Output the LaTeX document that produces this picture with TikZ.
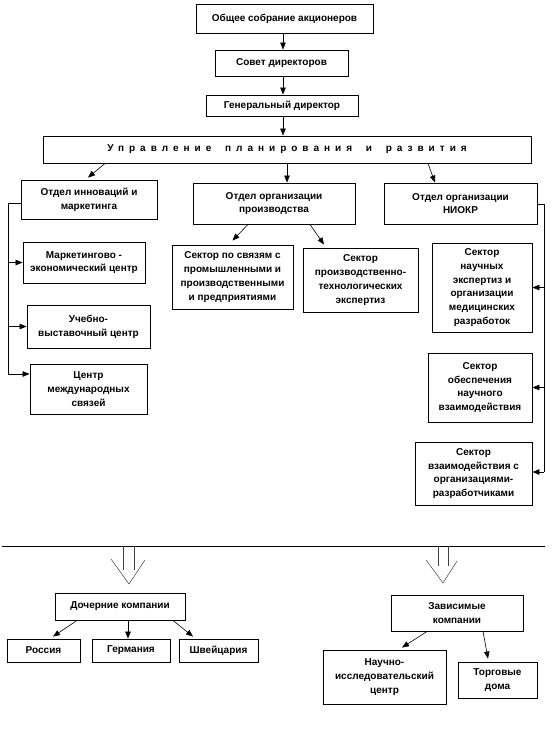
\documentclass[tikz,border=0pt]{standalone}
\usepackage{fontspec}
\setmainfont{Liberation Sans}
\newfontfamily\spacedfont[LetterSpace=50]{Liberation Sans}
\usetikzlibrary{arrows.meta}
\tikzset{
  box/.style={draw, line width=0.9pt, inner sep=1pt, align=center,
    font=\fontsize{10}{13.8}\selectfont\bfseries},
  arr/.style={line width=0.6pt, -{Triangle[length=7pt,width=5.5pt]}},
  ln/.style={line width=0.6pt},
  hollow/.style={line width=0.5pt, black!75}
}
\newcommand{\mybox}[6]{\node[box, minimum width={(#4-#2)*1pt}, minimum height={(#5-#3)*1pt}] (#1) at ({(#2+#4)/2},{(#3+#5)/2}) {#6};}
\begin{document}
\begin{tikzpicture}[x=1pt,y=-1pt]
\useasboundingbox (0,0) rectangle (552,748);
% top chain
\mybox{gm}{196}{4}{373}{33}{Общее собрание акционеров}
\mybox{sd}{215}{50}{348}{76}{Совет директоров}
\mybox{gd}{206}{95}{358}{116}{Генеральный директор}
\node[box, minimum width=488pt, minimum height=27pt] (up) at (287,149.5)
  {\spacedfont\bfseries Управление\hspace{6pt} планирования\hspace{6pt} и\hspace{6pt} развития};
% departments
\mybox{inn}{21}{180}{157}{219}{Отдел инноваций и\\маркетинга}
\mybox{opr}{193}{183}{355}{224}{Отдел организации\\производства}
\mybox{niokr}{384}{183}{537}{224}{Отдел организации\\НИОКР}
% left column
\mybox{mk}{23}{242}{145}{283}{Маркетингово -\\экономический центр}
\mybox{uv}{27}{305}{150}{348}{Учебно-\\выставочный центр}
\mybox{cmc}{30}{364}{147}{414}{Центр\\международных\\связей}
% middle
\mybox{ps}{172}{245}{293}{309}{Сектор по связям с\\промышленными и\\производственными\\и предприятиями}
\mybox{pt}{303}{248}{418}{312}{Сектор\\производственно-\\технологических\\экспертиз}
% right column
\mybox{sn}{432}{243}{532}{332}{Сектор\\научных\\экспертиз и\\организации\\медицинских\\разработок}
\mybox{ob}{428}{353}{532}{422}{Сектор\\обеспечения\\научного\\взаимодействия}
\mybox{vz}{415}{442}{532}{505}{Сектор\\взаимодействия с\\организациями-\\разработчиками}
% bottom
\mybox{dk}{55}{593}{185}{620}{Дочерние компании}
\mybox{ru}{7}{639}{80}{662}{Россия}
\mybox{de}{92}{639}{170}{662}{Германия}
\mybox{ch}{179}{639}{258}{662}{Швейцария}
\mybox{zk}{391}{595}{523}{631}{Зависимые\\компании}
\mybox{ni}{323}{650}{446}{704}{Научно-\\исследовательский\\центр}
\mybox{td}{458}{662}{537}{698}{Торговые\\дома}
% top arrows
\coordinate (topx) at (283,0);
\draw[arr] (topx |- gm.south) -- (topx |- sd.north);
\draw[arr] (topx |- sd.south) -- (topx |- gd.north);
\draw[arr] (topx |- gd.south) -- (topx |- up.north);
\draw[arr] ([xshift=-182pt]up.south) -- ([xshift=-1pt,yshift=2pt]inn.north);
\draw[arr] (up.south) -- (up.south |- opr.north);
\draw[arr] ([xshift=141pt]up.south) -- ([xshift=-25.5pt]niokr.north);
% left bracket
\coordinate (lt) at (8,203);
\coordinate (lb) at (8,374);
\draw[ln] (inn.west |- lt) -- (lt) -- (lb);
\draw[arr] (lt |- mk.west) -- (mk.west);
\draw[arr] (lt |- uv.west) -- (uv.west);
\draw[arr] (lb) -- (lb -| cmc.west);
% right bracket
\coordinate (rt) at (544,204);
\coordinate (rb) at (544,472);
\draw[ln] (niokr.east |- rt) -- (rt) -- (rb);
\draw[arr] (rt |- sn.east) -- (sn.east);
\draw[arr] (rt |- ob.east) -- (ob.east);
\draw[arr] (rb) -- (rb -| vz.east);
% production sectors
\draw[arr] ([xshift=-26pt]opr.south) -- ([yshift=4pt]ps.north);
\draw[arr] ([xshift=36pt]opr.south) -- ([xshift=-36.5pt,yshift=3pt]pt.north);
% separator
\coordinate (hl) at (2,546);
\coordinate (hr) at (545,546);
\draw[ln] (hl) -- (hr);
% hollow arrows
\draw[hollow] (123,546) -- (123,570) (134,546) -- (134,570);
\draw[hollow] (111,559) -- (129,584) -- (145,560);
\draw[hollow] (438,546) -- (438,566) (448,546) -- (448,566);
\draw[hollow] (426,560) -- (443,583) -- (457,561);
% subsidiaries
\draw[arr] ([xshift=-43pt]dk.south) -- ([xshift=9.5pt,yshift=2pt]ru.north);
\draw[arr] ([xshift=8pt]dk.south) -- ([xshift=8pt]dk.south |- de.north);
\draw[arr] ([xshift=53pt]dk.south) -- ([xshift=-25.5pt,yshift=2pt]ch.north);
% dependent
\draw[arr] ([xshift=-30pt]zk.south) -- ([xshift=17.5pt,yshift=2pt]ni.north);
\draw[arr] ([xshift=26pt]zk.south) -- ([xshift=-9.5pt,yshift=3pt]td.north);
\end{tikzpicture}
\end{document}
